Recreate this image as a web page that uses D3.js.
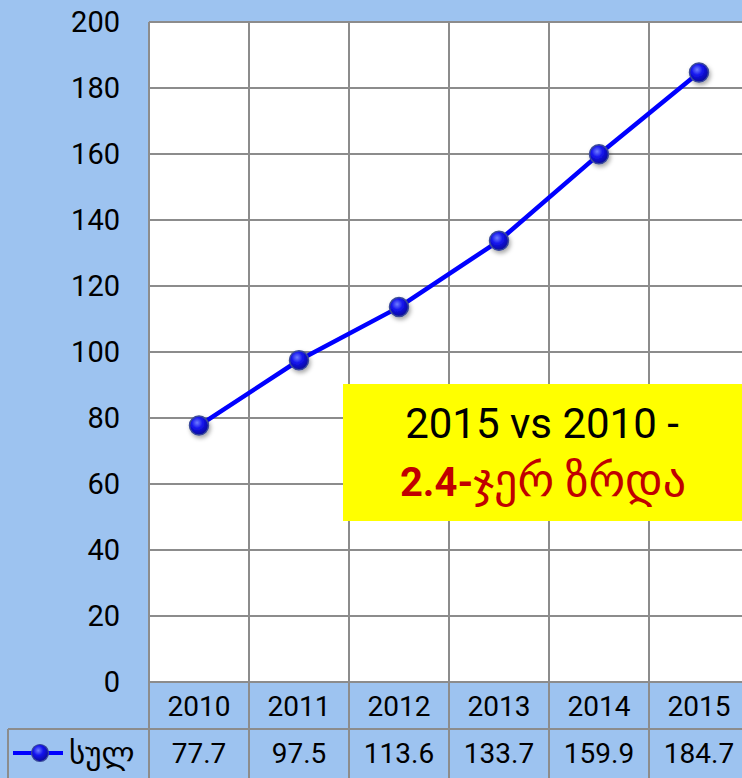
<!DOCTYPE html>
<html>
<head>
<meta charset="utf-8">
<script src="https://cdn.jsdelivr.net/npm/d3@7"></script>
<style>
  html, body { margin: 0; padding: 0; background: #9DC3F0; }
  svg { display: block; }
  text { font-family: Roboto, "DejaVu Sans", sans-serif; }
</style>
</head>
<body>
<svg id="chart" width="742" height="778"></svg>
<script>
const years = ["2010", "2011", "2012", "2013", "2014", "2015"];
const values = [77.7, 97.5, 113.6, 133.7, 159.9, 184.7];
const valueLabels = ["77.7", "97.5", "113.6", "133.7", "159.9", "184.7"];
const yTicks = [0, 20, 40, 60, 80, 100, 120, 140, 160, 180, 200];
const seriesName = "სულ";
const noteLine1 = "2015 vs 2010 -";
const noteLine2a = "2.4-";
const noteLine2b = "ჯერ ზრდა";

const W = 742, H = 778;
const plotL = 149, plotR = 749, plotT = 22, plotB = 682;
const catB = 729, tableL = 8, tableB = 800;
const gridColor = "#8c8c8c";

const svg = d3.select("#chart");
const defs = svg.append("defs");
const grad = defs.append("radialGradient").attr("id", "mk").attr("cx", "40%").attr("cy", "35%").attr("r", "65%");
grad.append("stop").attr("offset", "0%").attr("stop-color", "#6f7dff");
grad.append("stop").attr("offset", "45%").attr("stop-color", "#1414ee");
grad.append("stop").attr("offset", "100%").attr("stop-color", "#0a0a9a");
const f = defs.append("filter").attr("id", "sh").attr("x", "-50%").attr("y", "-50%").attr("width", "200%").attr("height", "200%");
f.append("feDropShadow").attr("dx", 1.5).attr("dy", 2.5).attr("stdDeviation", 2).attr("flood-color", "#000").attr("flood-opacity", 0.35);

const x = d3.scaleBand().domain(years).range([plotL, plotR]);
const y = d3.scaleLinear().domain([0, 200]).range([plotB, plotT]);

// background
svg.append("rect").attr("width", W).attr("height", H).attr("fill", "#9DC3F0");
// plot area
svg.append("rect").attr("x", plotL).attr("y", plotT).attr("width", plotR - plotL).attr("height", plotB - plotT).attr("fill", "#ffffff");

// horizontal gridlines
svg.append("g").selectAll("line").data(yTicks).join("line")
  .attr("x1", plotL).attr("x2", plotR)
  .attr("y1", d => y(d)).attr("y2", d => y(d))
  .attr("stroke", gridColor).attr("stroke-width", 2);

// vertical gridlines (through plot, category row and table)
const bounds = years.map(d => x(d)).concat([plotR]);
svg.append("g").selectAll("line").data(bounds).join("line")
  .attr("x1", d => d).attr("x2", d => d)
  .attr("y1", plotT).attr("y2", tableB)
  .attr("stroke", gridColor).attr("stroke-width", 2);

// table borders
svg.append("line").attr("x1", tableL).attr("x2", plotR).attr("y1", catB).attr("y2", catB)
  .attr("stroke", gridColor).attr("stroke-width", 2);
svg.append("line").attr("x1", tableL).attr("x2", tableL).attr("y1", catB).attr("y2", tableB)
  .attr("stroke", gridColor).attr("stroke-width", 2);

// y tick labels
svg.append("g").selectAll("text").data(yTicks).join("text")
  .attr("x", 120).attr("y", d => y(d)).attr("dy", "0.35em")
  .attr("text-anchor", "end").attr("font-size", 29).attr("fill", "#000")
  .text(d => d);

// category labels
svg.append("g").selectAll("text").data(years).join("text")
  .attr("x", d => x(d) + x.bandwidth() / 2).attr("y", (plotB + catB) / 2 + 1).attr("dy", "0.35em")
  .attr("text-anchor", "middle").attr("font-size", 28).attr("fill", "#000")
  .text(d => d);

// data table values
svg.append("g").selectAll("text").data(valueLabels).join("text")
  .attr("x", (d, i) => x(years[i]) + x.bandwidth() / 2).attr("y", 753).attr("dy", "0.35em")
  .attr("text-anchor", "middle").attr("font-size", 28).attr("fill", "#000")
  .text(d => d);

// legend key
svg.append("line").attr("x1", 13).attr("x2", 63).attr("y1", 753).attr("y2", 753)
  .attr("stroke", "#0000ff").attr("stroke-width", 4);
svg.append("circle").attr("cx", 40).attr("cy", 753).attr("r", 8.5)
  .attr("fill", "url(#mk)").attr("stroke", "#3a4a9a").attr("stroke-width", 1.2);
svg.append("text").attr("x", 69).attr("y", 753).attr("dy", "0.35em")
  .attr("font-size", 31).attr("fill", "#000").text(seriesName);

// line
const line = d3.line().x((d, i) => x(years[i]) + x.bandwidth() / 2).y(d => y(d));
svg.append("path").datum(values).attr("d", line)
  .attr("fill", "none").attr("stroke", "#0000ff").attr("stroke-width", 4.5).attr("stroke-linejoin", "round");

// markers
svg.append("g").selectAll("circle").data(values).join("circle")
  .attr("cx", (d, i) => x(years[i]) + x.bandwidth() / 2).attr("cy", d => y(d)).attr("r", 9.5)
  .attr("fill", "url(#mk)").attr("stroke", "#3a4a9a").attr("stroke-width", 1.5)
  .attr("filter", "url(#sh)");

// annotation box
svg.append("rect").attr("x", 343).attr("y", 384).attr("width", 420).attr("height", 137).attr("fill", "#ffff00");
svg.append("text").attr("x", 542).attr("y", 438).attr("text-anchor", "middle")
  .attr("font-size", 42).attr("fill", "#000").text(noteLine1);
const t2 = svg.append("text").attr("x", 543).attr("y", 496).attr("text-anchor", "middle").attr("fill", "#c00000");
t2.append("tspan").attr("font-size", 40).attr("font-weight", "bold").text(noteLine2a);
t2.append("tspan").attr("font-size", 46).attr("font-weight", "normal").text(noteLine2b);
</script>
</body>
</html>
